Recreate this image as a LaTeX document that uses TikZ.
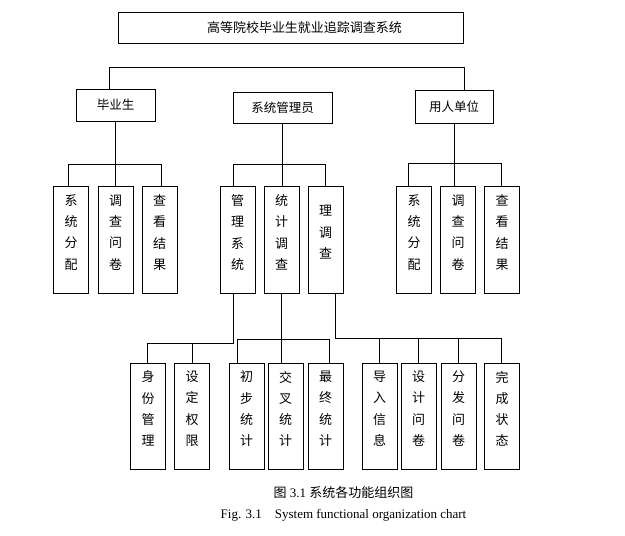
\documentclass[tikz,border=0pt]{standalone}
\usepackage{fontspec}
\setmainfont{Liberation Serif}
\newfontfamily\cjk{Noto Sans CJK SC}
\def\vtxt#1{\parbox[c][90pt][t]{14pt}{\centering #1}}

\begin{document}
\begin{tikzpicture}[x=1pt, y=-1pt, line width=1pt,
		topbox/.style={draw, minimum width=345, minimum height=31, inner sep=0pt, font=\cjk\fontsize{13}{15}\selectfont},
		rolebox/.style={draw, minimum height=32, inner sep=0pt, font=\cjk\fontsize{12.5}{15}\selectfont},
		vbox/.style={draw, minimum width=35, minimum height=107, inner sep=0pt, font=\cjk\fontsize{13}{21.3}\selectfont},
		lowbox/.style={vbox, minimum height=106}]
			%%%%% START %%%%%
			\useasboundingbox (0, 0) rectangle (625, 536);
			
			\node[topbox] (sys) at (290.5, 27.5) {\hspace*{28pt}高等院校毕业生就业追踪调查系统};
			
			\node[rolebox, minimum width=79] (grad) at (115.5, 105) {毕业生};
			\node[rolebox, minimum width=99, minimum height=31] (admin) at (282.5, 107.5) {系统管理员};
			\node[rolebox, minimum width=78, minimum height=33] (emp) at (454, 106.5) {用人单位};
			
			\node[vbox] (g1) at (71, 239.5) {\vtxt{系\\统\\分\\配}};
			\node[vbox] (g2) at (115.5, 239.5) {\vtxt{调\\查\\问\\卷}};
			\node[vbox] (g3) at (159.5, 239.5) {\vtxt{查\\看\\结\\果}};
			
			\node[vbox] (a1) at (237.5, 239.5) {\vtxt{管\\理\\系\\统}};
			\node[vbox] (a2) at (281.5, 239.5) {\vtxt{统\\计\\调\\查}};
			\node[vbox] (a3) at (325.5, 239.5) {\vtxt{\mbox{}\\理\\调\\查}};
			
			\node[vbox] (e1) at (414, 239.5) {\vtxt{系\\统\\分\\配}};
			\node[vbox] (e2) at (458, 239.5) {\vtxt{调\\查\\问\\卷}};
			\node[vbox] (e3) at (502, 239.5) {\vtxt{查\\看\\结\\果}};
			
			\node[lowbox] (b1) at (148, 416) {\vtxt{身\\份\\管\\理}};
			\node[lowbox] (b2) at (192, 416) {\vtxt{设\\定\\权\\限}};
			\node[lowbox] (b3) at (246.5, 416) {\vtxt{初\\步\\统\\计}};
			\node[lowbox] (b4) at (285.5, 416) {\vtxt{交\\叉\\统\\计}};
			\node[lowbox] (b5) at (325.5, 416) {\vtxt{最\\终\\统\\计}};
			\node[lowbox] (b6) at (379.5, 416) {\vtxt{导\\入\\信\\息}};
			\node[lowbox] (b7) at (418.5, 416) {\vtxt{设\\计\\问\\卷}};
			\node[lowbox] (b8) at (458.5, 416) {\vtxt{分\\发\\问\\卷}};
			\node[lowbox] (b9) at (502, 416) {\vtxt{完\\成\\状\\态}};
			
			% top bus
			\coordinate (tl) at (109, 67);
			\coordinate (tr) at (464, 67);
			\draw (grad.north -| tl) -- (tl) -- (tr) -- (emp.north -| tr);
			
			% graduate
			\coordinate (gl) at (68, 164);
			\coordinate (gr) at (161, 164);
			\draw (grad.south) -- (grad.south |- g2.north);
			\draw (g1.north -| gl) -- (gl) -- (gr) -- (g3.north -| gr);
			
			% admin
			\coordinate (al) at (233, 164);
			\coordinate (ar) at (325, 164);
			\draw (admin.south) -- (admin.south |- a2.north);
			\draw (a1.north -| al) -- (al) -- (ar) -- (a3.north -| ar);
			
			% employer
			\coordinate (el) at (408, 163);
			\coordinate (er) at (501, 163);
			\draw (emp.south) -- (emp.south |- e2.north);
			\draw (e1.north -| el) -- (el) -- (er) -- (e3.north -| er);
			
			% lower level
			\coordinate (m1) at (233, 343);
			\coordinate (m2) at (147, 343);
			\draw (a1.south -| m1) -- (m1) -- (m2) -- (b1.north -| m2);
			\draw (b2.north |- m1) -- (b2.north);
			
			\coordinate (s1) at (237, 339);
			\coordinate (s2) at (329, 339);
			\draw (a2.south) -- (a2.south |- b4.north);
			\draw (b3.north -| s1) -- (s1) -- (s2) -- (b5.north -| s2);
			
			\coordinate (q1) at (335, 338);
			\coordinate (q2) at (501, 338);
			\draw (a3.south -| q1) -- (q1) -- (q2) -- (b9.north -| q2);
			\foreach \n in {b6, b7, b8}
				\draw (\n.north |- q1) -- (\n.north);
			
			\node[font=\fontsize{13}{15}\selectfont] (cap1) at (343.5, 493) {{\cjk 图}~3.1~{\cjk 系统各功能组织图}};
			\node[font=\fontsize{13}{15}\selectfont] (cap2) at (343.5, 515) {Fig. 3.1\hspace{1em}System functional organization chart};
			%%%%% END %%%%%
		\end{tikzpicture}
\end{document}
